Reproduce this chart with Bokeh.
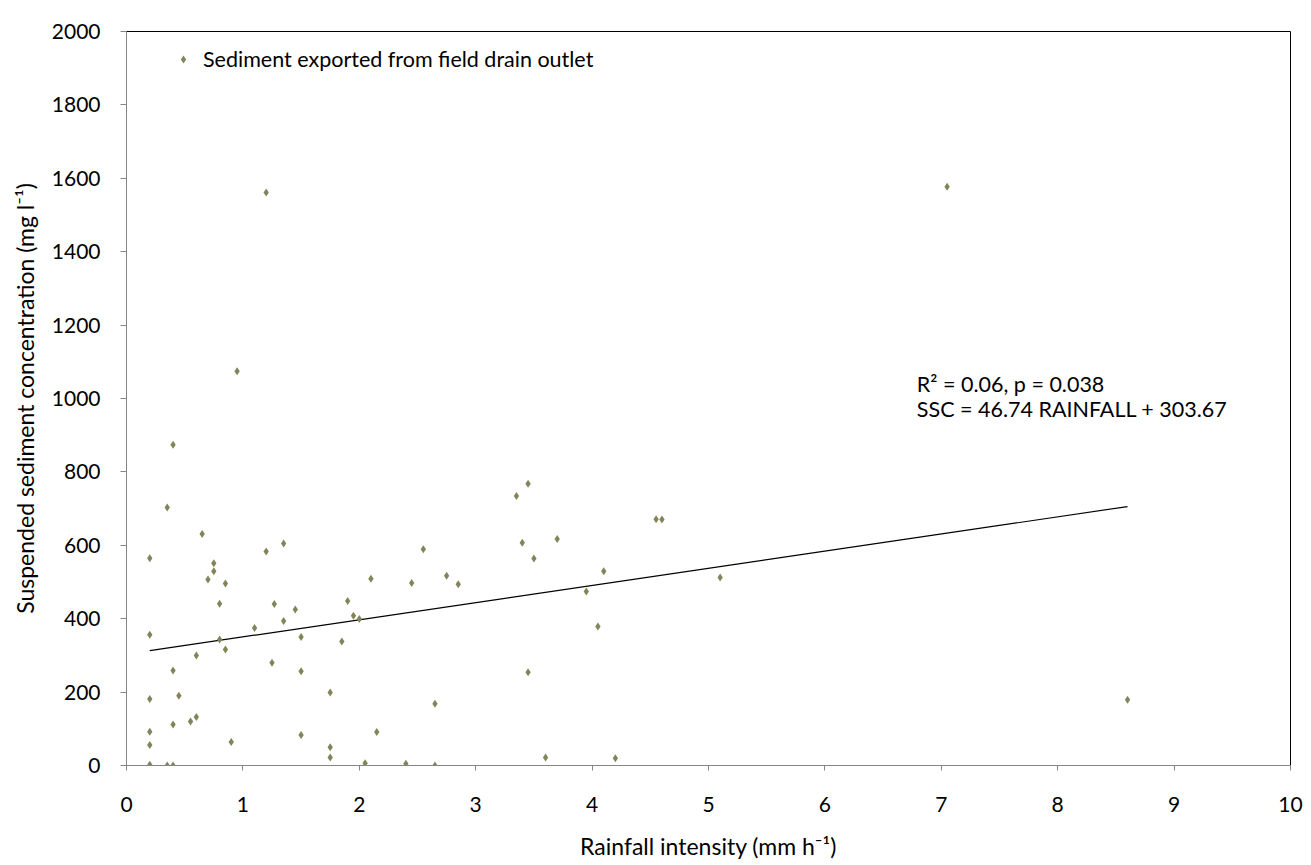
from bokeh.plotting import figure
from bokeh.models import Range1d, FixedTicker, Label, Legend, LegendItem
from bokeh.embed import file_html
from bokeh.resources import INLINE

# Rainfall intensity (mm h-1) and suspended sediment concentration (mg l-1)
rain = [0.35, 0.65, 0.2, 1.35, 1.2, 0.75, 0.75, 0.7, 0.85, 2.1,
        0.8, 1.27, 1.45, 1.9, 1.95, 2.0, 0.2, 1.1, 1.35, 0.8,
        0.85, 1.5, 1.85, 0.6, 1.25, 0.4, 1.5, 0.2, 0.45, 1.75,
        0.6, 0.55, 0.4, 0.2, 0.2, 0.9, 1.5, 1.75, 1.75, 2.05,
        0.2, 0.35, 0.4,
        1.2, 0.95, 0.4,
        2.45, 2.55, 2.75, 2.85, 3.4, 3.7, 3.5, 4.1, 3.95, 4.05,
        3.45, 2.65, 2.15, 3.6, 2.4, 2.65,
        3.45, 3.35,
        4.55, 4.6, 5.1, 4.2,
        7.05, 8.6]
ssc = [703, 631, 565, 605, 583, 551, 529, 507, 496, 509,
       441, 440, 425, 448, 408, 399, 356, 375, 394, 343,
       316, 350, 338, 300, 280, 259, 257, 181, 190, 199,
       132, 120, 112, 92, 56, 64, 83, 50, 22, 6,
       2, 0, 0,
       1561, 1074, 874,
       497, 589, 517, 494, 607, 617, 564, 529, 474, 379,
       254, 168, 91, 22, 5, 0,
       768, 734,
       671, 670, 512, 20,
       1577, 179]

# Fitted line (SSC = 46.74 RAINFALL + 303.67), drawn over the data span
trend_x = [0.2, 8.6]
trend_y = [313.0, 705.6]

x_ticks = [0, 1, 2, 3, 4, 5, 6, 7, 8, 9, 10]
y_ticks = [0, 200, 400, 600, 800, 1000, 1200, 1400, 1600, 1800, 2000]

FONT = "Lato"
p = figure(width=1311, height=865, output_backend="svg", toolbar_location=None,
           x_range=Range1d(0, 10), y_range=Range1d(0, 2000),
           min_border_left=126, min_border_right=21, min_border_top=31, min_border_bottom=100)
p.background_fill_color = "white"
p.border_fill_color = "white"
p.outline_line_color = "black"
p.outline_line_width = 1
p.xgrid.visible = False
p.ygrid.visible = False

for ax in (p.xaxis[0], p.yaxis[0]):
    ax.axis_line_color = "#868686"
    ax.major_tick_line_color = "#868686"
    ax.minor_tick_line_color = None
    ax.major_tick_in = 0
    ax.major_label_text_font = FONT
    ax.major_label_text_font_size = "21px"
    ax.major_label_text_color = "black"
    ax.axis_label_text_font = FONT
    ax.axis_label_text_font_size = "23px"
    ax.axis_label_text_font_style = "normal"
    ax.axis_label_text_color = "black"

p.xaxis.ticker = FixedTicker(ticks=x_ticks)
p.yaxis.ticker = FixedTicker(ticks=y_ticks)
p.xaxis.major_tick_out = 5
p.yaxis.major_tick_out = 6
p.xaxis.major_label_standoff = 26
p.yaxis.major_label_standoff = 20
p.xaxis.axis_label = "Rainfall intensity (mm h\u207b\u00b9)"
p.yaxis.axis_label = "Suspended sediment concentration (mg l\u207b\u00b9)"
p.xaxis.axis_label_standoff = 17
p.yaxis.axis_label_standoff = 10

p.line(trend_x, trend_y, line_color="black", line_width=1.2)
pts = p.scatter(rain, ssc, marker="diamond", size=8, fill_color="#84845A",
                line_color="#84845A", line_width=0)

legend = Legend(items=[LegendItem(label="Sediment exported from field drain outlet", renderers=[pts])],
                location=(47, 693), orientation="vertical",
                border_line_color=None, background_fill_alpha=0,
                padding=0, margin=0, glyph_width=20, glyph_height=20, label_standoff=10,
                label_text_font=FONT, label_text_font_size="21.5px", label_text_color="black")
p.add_layout(legend)

p.add_layout(Label(x=6.79, y=1040, text="R\u00b2 = 0.06, p = 0.038", text_font=FONT,
                   text_font_size="21.5px", text_color="black", text_baseline="alphabetic"))
p.add_layout(Label(x=6.79, y=971, text="SSC = 46.74 RAINFALL + 303.67", text_font=FONT,
                   text_font_size="21.5px", text_color="black", text_baseline="alphabetic"))

open("out.html", "w").write(file_html(p, INLINE))
